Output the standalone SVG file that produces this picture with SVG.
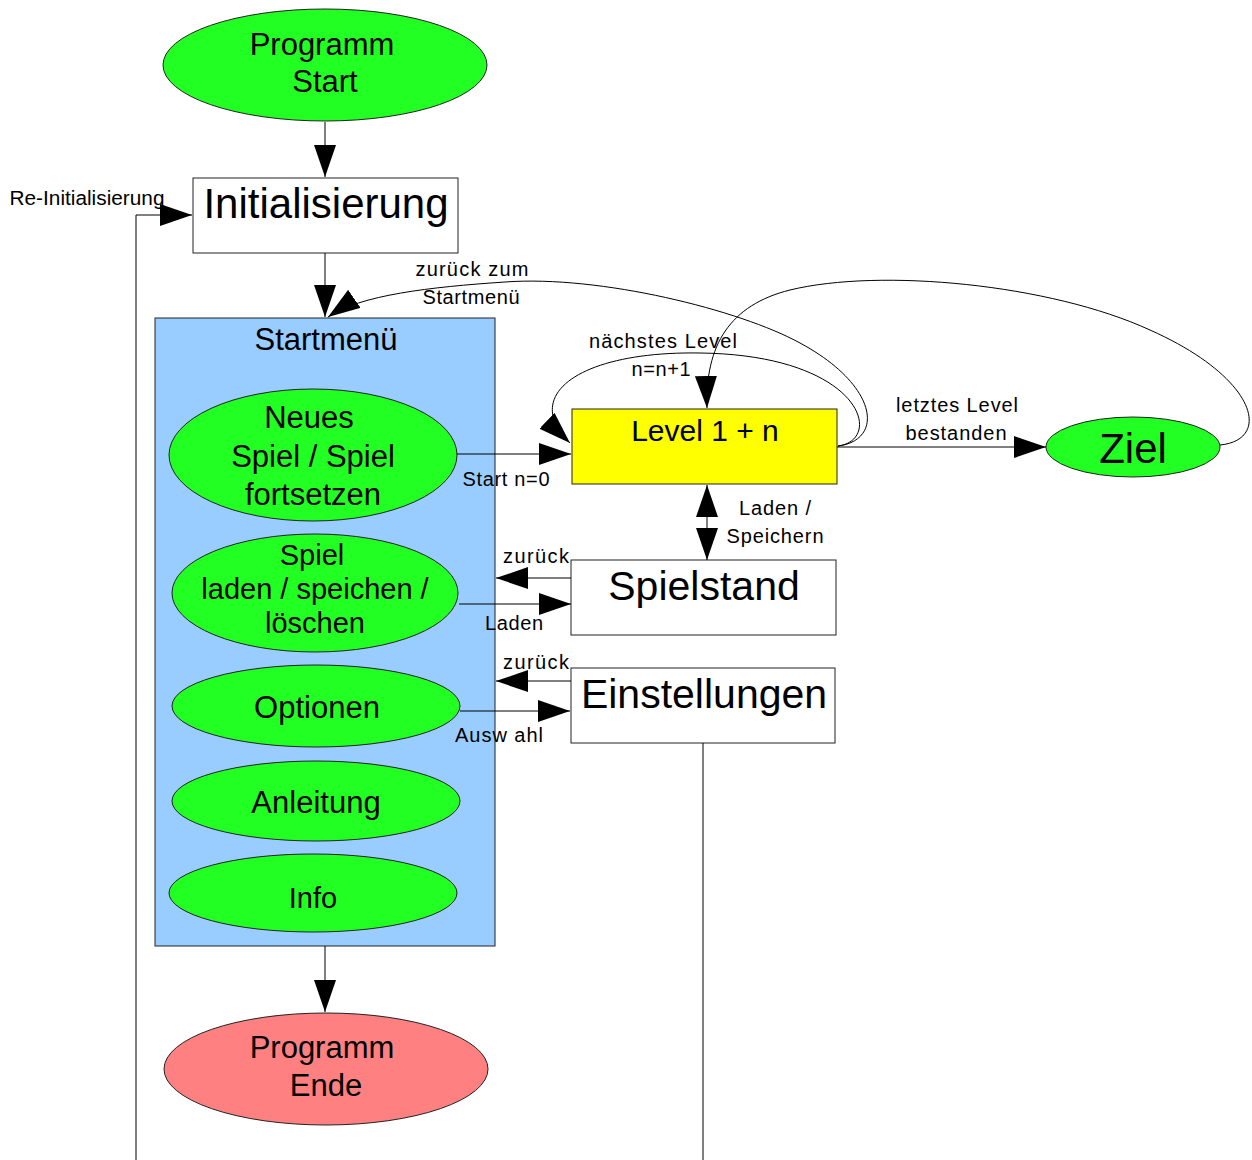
<svg xmlns="http://www.w3.org/2000/svg" width="1252" height="1160" viewBox="0 0 1252 1160">
<style>
text{font-family:"Liberation Sans",Arial,sans-serif;fill:#000;text-anchor:middle}
.n{stroke:#222;stroke-width:1}
.g{fill:#22ff22}
.c{fill:none;stroke:#000;stroke-width:1}
.lbl{font-size:20px}
.big{font-size:42px}
.mid{font-size:31px}
</style>
<defs>
<marker id="ah" markerUnits="userSpaceOnUse" markerWidth="32" markerHeight="22" viewBox="0 0 32 22" refX="32" refY="11" orient="auto-start-reverse">
<path d="M0,0 L32,11 L0,22 z" fill="#000"/>
</marker>
</defs>
<rect width="1252" height="1160" fill="#fff"/>

<g id="programm-start">
<ellipse class="n g" cx="325" cy="65" rx="162" ry="56"/>
<text class="mid" x="322" y="55">Programm</text>
<text class="mid" x="325" y="92">Start</text>
</g>

<g id="initialisierung">
<rect class="n" x="193" y="178" width="265" height="75" fill="#fff"/>
<text class="big" x="326" y="218">Initialisierung</text>
</g>

<g id="startmenue">
<rect class="n" x="155" y="318" width="340" height="628" fill="#99ccff"/>
<text class="mid" x="326" y="350">Startmenü</text>
</g>

<g id="neues-spiel">
<ellipse class="n g" cx="313" cy="455" rx="144" ry="66"/>
<text class="mid" x="309" y="428">Neues</text>
<text class="mid" x="313" y="467">Spiel / Spiel</text>
<text class="mid" x="313" y="505">fortsetzen</text>
</g>

<g id="spiel-laden">
<ellipse class="n g" cx="315" cy="593" rx="143" ry="59"/>
<text class="mid" x="312" y="565" style="font-size:29px">Spiel</text>
<text class="mid" x="315" y="599" style="font-size:29px">laden / speichen /</text>
<text class="mid" x="315" y="633" style="font-size:29px">löschen</text>
</g>

<g id="optionen">
<ellipse class="n g" cx="316" cy="706" rx="144" ry="41"/>
<text class="mid" x="317" y="718">Optionen</text>
</g>

<g id="anleitung">
<ellipse class="n g" cx="316" cy="801" rx="144" ry="40"/>
<text class="mid" x="316" y="813">Anleitung</text>
</g>

<g id="info">
<ellipse class="n g" cx="313" cy="893" rx="144" ry="39"/>
<text class="mid" x="313" y="908" style="font-size:29px">Info</text>
</g>

<g id="level">
<rect class="n" x="572" y="409" width="265" height="75" fill="#ffff00"/>
<text class="mid" x="705" y="441" style="font-size:30px">Level 1 + n</text>
</g>

<g id="ziel">
<ellipse class="n g" cx="1133" cy="447" rx="87" ry="30"/>
<text class="big" x="1133" y="463">Ziel</text>
</g>

<g id="spielstand">
<rect class="n" x="571" y="560" width="265" height="75" fill="#fff"/>
<text class="big" x="704" y="600" style="font-size:41px">Spielstand</text>
</g>

<g id="einstellungen">
<rect class="n" x="571" y="668" width="264" height="75" fill="#fff"/>
<text class="big" x="704" y="708" style="font-size:41px">Einstellungen</text>
</g>

<g id="programm-ende">
<ellipse class="n" cx="326" cy="1069" rx="162" ry="56" fill="#ff8080"/>
<text class="mid" x="322" y="1058">Programm</text>
<text class="mid" x="326" y="1096">Ende</text>
</g>

<g id="connectors">
<path class="c" d="M325,122 V177" marker-end="url(#ah)"/>
<path class="c" d="M325,253 V317" marker-end="url(#ah)"/>
<path class="c" d="M325,946 V1012" marker-end="url(#ah)"/>
<path class="c" d="M136,1160 V215 H192" marker-end="url(#ah)"/>
<path class="c" d="M703,743 V1160" stroke="#666"/>
<path class="c" d="M457,454 H571" marker-end="url(#ah)"/>
<path class="c" d="M571,578 H496" marker-end="url(#ah)"/>
<path class="c" d="M459,604 H571" marker-end="url(#ah)"/>
<path class="c" d="M571,681 H496" marker-end="url(#ah)"/>
<path class="c" d="M460,711 H570" marker-end="url(#ah)"/>
<path class="c" d="M837,447 H1046" marker-end="url(#ah)"/>
<path class="c" d="M707,485 V560" marker-start="url(#ah)" marker-end="url(#ah)"/>
<path class="c" d="M838,446 C885,440 878,385 800,343 C740,310 600,275 505,282 C430,287 360,295 328,317" marker-end="url(#ah)"/>
<path class="c" d="M838,446 C885,440 862,355 700,353 C580,351 520,395 570,443" marker-end="url(#ah)"/>
<path class="c" d="M1220,445 C1272,440 1258,378 1150,330 C1050,284 880,268 790,290 C730,305 705,345 707,408" marker-end="url(#ah)"/>
<text class="lbl" x="87" y="205" textLength="155" lengthAdjust="spacingAndGlyphs">Re-Initialisierung</text>
<text class="lbl" x="472" y="276" textLength="113">zurück zum</text>
<text class="lbl" x="471" y="304" textLength="97">Startmenü</text>
<text class="lbl" x="663" y="348" textLength="148">nächstes Level</text>
<text class="lbl" x="661" y="376" textLength="59">n=n+1</text>
<text class="lbl" x="957" y="412" textLength="122">letztes Level</text>
<text class="lbl" x="956" y="440" textLength="101">bestanden</text>
<text class="lbl" x="506" y="486" textLength="87">Start n=0</text>
<text class="lbl" x="775" y="515" textLength="72">Laden /</text>
<text class="lbl" x="775" y="543" textLength="97">Speichern</text>
<text class="lbl" x="536" y="563" textLength="66">zurück</text>
<text class="lbl" x="514" y="630" textLength="58">Laden</text>
<text class="lbl" x="536" y="669" textLength="66">zurück</text>
<text class="lbl" x="499" y="742" textLength="88">Ausw ahl</text>
</g>
</svg>
